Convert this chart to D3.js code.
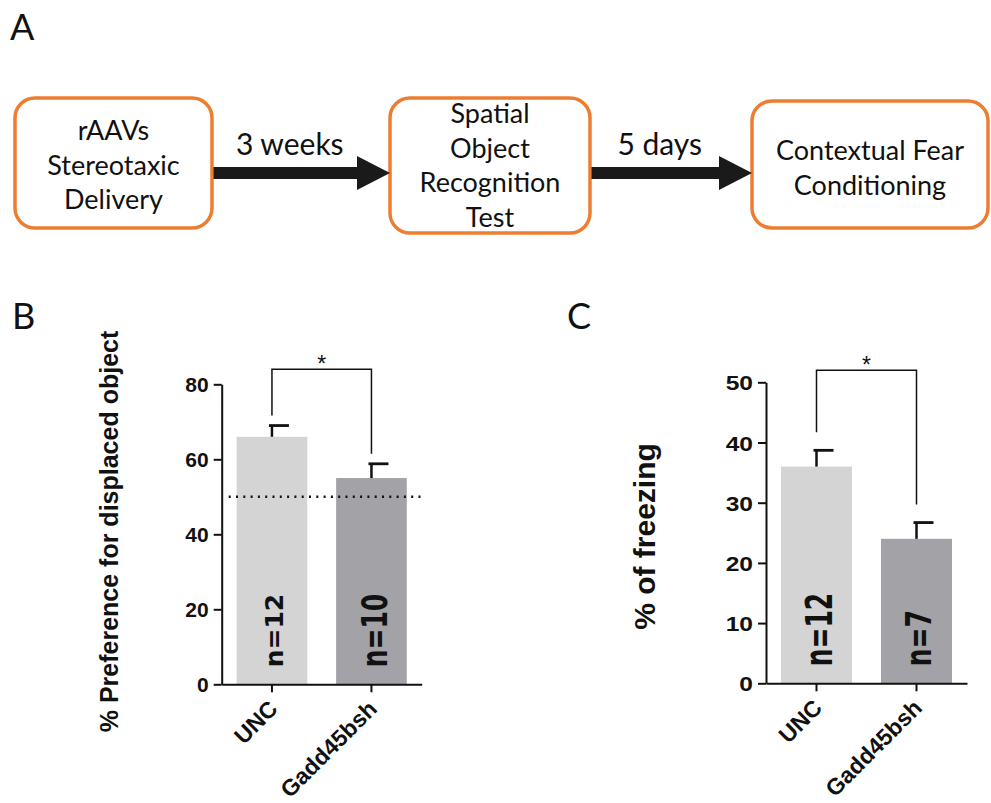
<!DOCTYPE html>
<html>
<head>
<meta charset="utf-8">
<script src="https://cdn.jsdelivr.net/npm/d3@7"></script>
<style>
  html, body { margin: 0; padding: 0; background: #fff; }
  svg { display: block; }
</style>
</head>
<body>
<svg id="fig" width="991" height="803"></svg>
<script>
// ---- Data ----
const groups = ["UNC", "Gadd45bsh"];

// Panel B: % preference for displaced object
const prefMean = [66, 55];
const prefSem = [3, 3.8];
const prefN = [12, 10];
const prefTicks = [0, 20, 40, 60, 80];
const prefChance = 50;
const prefBracket = 84;

// Panel C: % of freezing
const freezeMean = [36, 24];
const freezeSem = [2.7, 2.7];
const freezeN = [12, 7];
const freezeTicks = [0, 10, 20, 30, 40, 50];
const freezeBracket = 52;

// Panel A: timeline
const stepLines = [
  ["rAAVs", "Stereotaxic", "Delivery"],
  ["Spatial", "Object", "Recognition", "Test"],
  ["Contextual Fear", "Conditioning"]
];
const intervals = ["3 weeks", "5 days"];

// ---- Styles ----
const barFill = ["#d4d4d4", "#a3a2a7"];
const orange = "#ED7D31";
const ink = "#111";
const sans = "'Liberation Sans', Arial, sans-serif";
const calib = "Lato, 'Open Sans', sans-serif";

const svg = d3.select("#fig");

// Panel letters
[["A", 10, 40], ["B", 12, 329], ["C", 567, 329]].forEach(([t, x, y]) => {
  svg.append("text").attr("x", x).attr("y", y)
    .attr("font-family", calib).attr("font-size", 36).attr("fill", ink).text(t);
});

// ---- Panel A: timeline ----
const boxes = [
  {x: 15, y: 98, w: 197, h: 130, firstBase: 140},
  {x: 390, y: 98, w: 200, h: 135, firstBase: 123},
  {x: 752, y: 101, w: 236, h: 127, firstBase: 160}
];
const lineGap = 34.5;
const gA = svg.append("g");
boxes.forEach((b, i) => {
  gA.append("rect").attr("x", b.x).attr("y", b.y).attr("width", b.w).attr("height", b.h)
    .attr("rx", 20).attr("fill", "#fff").attr("stroke", orange).attr("stroke-width", 3.5);
  gA.append("g").selectAll("text").data(stepLines[i]).join("text")
    .attr("x", b.x + b.w / 2)
    .attr("y", (d, k) => b.firstBase + k * lineGap)
    .attr("text-anchor", "middle")
    .attr("font-family", calib).attr("font-size", 27).attr("fill", ink)
    .text(d => d);
});

// Arrows between boxes
const arrowY = 173, shaftH = 12, headH = 34, headL = 33;
intervals.forEach((label, i) => {
  const x0 = boxes[i].x + boxes[i].w + 1.5;
  const x1 = boxes[i + 1].x;
  const hx = x1 - headL;
  const pts = [
    [x0, arrowY - shaftH / 2], [hx, arrowY - shaftH / 2], [hx, arrowY - headH / 2],
    [x1, arrowY], [hx, arrowY + headH / 2], [hx, arrowY + shaftH / 2], [x0, arrowY + shaftH / 2]
  ];
  gA.append("path").attr("d", d3.line()(pts) + "Z").attr("fill", "#1a1a1a");
  gA.append("text").attr("x", (x0 + x1) / 2 - 12).attr("y", 155)
    .attr("text-anchor", "middle").attr("font-family", calib).attr("font-size", 30)
    .attr("fill", ink).text(label);
});

// ---- Bar panel builder ----
function barPanel(cfg) {
  const g = svg.append("g");
  const y = d3.scaleLinear().domain(cfg.domain).range([cfg.y0, cfg.y1]);
  const x = d3.scaleBand().domain(groups).range([cfg.x0, cfg.x1])
    .paddingInner(0.29).paddingOuter(0.15);
  const cx = d => x(d) + x.bandwidth() / 2;

  // bars
  g.selectAll("rect.bar").data(groups).join("rect").attr("class", "bar")
    .attr("x", d => x(d)).attr("width", x.bandwidth())
    .attr("y", (d, i) => y(cfg.mean[i]))
    .attr("height", (d, i) => y(0) - y(cfg.mean[i]))
    .attr("fill", (d, i) => barFill[i]);

  // error bars (upper only)
  groups.forEach((d, i) => {
    const top = y(cfg.mean[i] + cfg.sem[i]);
    g.append("line").attr("x1", cx(d)).attr("x2", cx(d))
      .attr("y1", y(cfg.mean[i])).attr("y2", top)
      .attr("stroke", ink).attr("stroke-width", 2.5);
    g.append("line").attr("x1", cx(d) - 3).attr("x2", cx(d) + 17)
      .attr("y1", top).attr("y2", top)
      .attr("stroke", ink).attr("stroke-width", 2.8);
  });

  // chance line
  if (cfg.chance != null) {
    g.append("line").attr("x1", cfg.x0 + 7).attr("x2", cfg.x1 + 4)
      .attr("y1", y(cfg.chance)).attr("y2", y(cfg.chance))
      .attr("stroke", ink).attr("stroke-width", 2.5)
      .attr("stroke-dasharray", "2,5.3");
  }

  // y axis
  const ya = g.append("g").attr("transform", `translate(${cfg.x0},0)`)
    .call(d3.axisLeft(y).tickValues(cfg.ticks).tickSize(8).tickSizeOuter(0).tickPadding(5));
  ya.select(".domain").attr("stroke", ink).attr("stroke-width", 2);
  ya.selectAll(".tick line").attr("stroke", ink).attr("stroke-width", 2);
  ya.selectAll(".tick text").attr("font-family", sans).attr("font-weight", "bold")
    .attr("font-size", 21).attr("fill", ink)
    .attr("dy", "0.36em");
  if (cfg.tickStretch) {
    ya.selectAll(".tick text").each(function () {
      const t = d3.select(this);
      const xx = +t.attr("x");
      t.attr("x", xx / cfg.tickStretch)
        .attr("transform", `scale(${cfg.tickStretch},1)`);
    });
  }

  // x axis
  const xa = g.append("g").attr("transform", `translate(0,${cfg.y0})`)
    .call(d3.axisBottom(x).tickSize(8).tickSizeOuter(0));
  xa.select(".domain").attr("stroke", ink).attr("stroke-width", 2);
  xa.selectAll(".tick line").attr("stroke", ink).attr("stroke-width", 2);
  xa.selectAll(".tick text")
    .attr("font-family", sans).attr("font-weight", "bold").attr("font-size", 23)
    .attr("fill", ink).attr("text-anchor", "end")
    .attr("x", 0).attr("y", 0).attr("dy", null)
    .attr("transform", "translate(7,26) rotate(-45)");

  // y axis title
  g.append("text")
    .attr("transform", `translate(${cfg.titleX},${cfg.titleY}) rotate(-90)`)
    .attr("text-anchor", "middle").attr("font-family", sans).attr("font-weight", "bold")
    .attr("font-size", cfg.titleSize).attr("fill", ink).text(cfg.title);

  // n labels inside bars
  groups.forEach((d, i) => {
    const s = cfg.nStretch[i];
    const cap = 18 * s;
    g.append("text")
      .attr("transform", `translate(${cx(d) + cap / 2 + 2},${cfg.y0 - 17}) rotate(-90) scale(1,${s})`)
      .attr("font-family", "'DejaVu Sans', sans-serif").attr("font-weight", "bold")
      .attr("font-size", 25).attr("fill", ink).text("n=" + cfg.n[i]);
  });

  // significance bracket
  const by = y(cfg.bracket);
  const legs = groups.map((d, i) => y(cfg.mean[i] + cfg.sem[i] + cfg.legGap));
  g.append("path")
    .attr("d", d3.line()([[cx(groups[0]), legs[0]], [cx(groups[0]), by], [cx(groups[1]), by], [cx(groups[1]), legs[1]]]))
    .attr("fill", "none").attr("stroke", ink).attr("stroke-width", 1.5);
  g.append("text").attr("x", (cx(groups[0]) + cx(groups[1])) / 2).attr("y", by + 3)
    .attr("text-anchor", "middle").attr("font-family", sans).attr("font-size", 23)
    .attr("fill", ink).text("*");
}

barPanel({
  domain: [0, 80], y0: 684.3, y1: 384.3, x0: 221.7, x1: 421.7,
  mean: prefMean, sem: prefSem, n: prefN, ticks: prefTicks,
  chance: prefChance, bracket: prefBracket, legGap: 2.7,
  title: "% Preference for displaced object", titleX: 118, titleY: 531.5, titleSize: 25,
  nStretch: [1, 1.45]
});

barPanel({
  domain: [0, 50], y0: 683.3, y1: 382.3, x0: 766, x1: 967,
  mean: freezeMean, sem: freezeSem, n: freezeN, ticks: freezeTicks,
  chance: null, bracket: freezeBracket, legGap: 3,
  title: "% of freezing", titleX: 655, titleY: 536.5, titleSize: 30,
  nStretch: [1.5, 1.4], tickStretch: 1.17
});
</script>
</body>
</html>
